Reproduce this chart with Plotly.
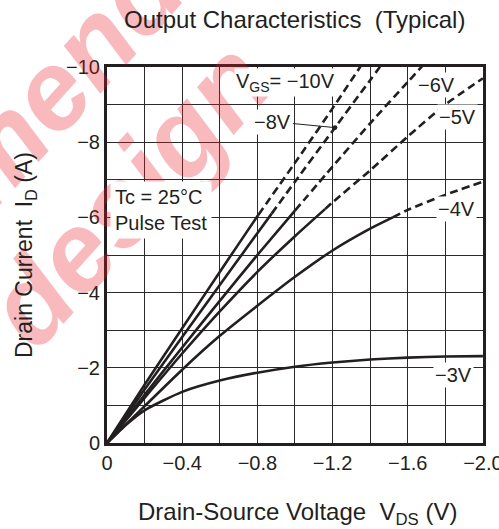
import numpy as np
import plotly.graph_objects as go

# ---- data ----
vgs_labels = ["−10V", "−8V", "−6V", "−5V", "−4V", "−3V"]

vds_m10 = [0, -0.2, -0.4, -0.6, -0.8, -1.0, -1.2, -1.4]
id_m10 = [0, -1.55, -3.05, -4.55, -6.03, -7.45, -8.9, -10.4]

vds_m8 = [0, -0.2, -0.4, -0.6, -0.8, -1.0, -1.2, -1.4, -1.6]
id_m8 = [0, -1.42, -2.82, -4.2, -5.58, -6.95, -8.3, -9.65, -11.0]

vds_m6 = [0, -0.2, -0.4, -0.6, -0.8, -1.0, -1.2, -1.4, -1.6, -1.8]
id_m6 = [0, -1.28, -2.54, -3.78, -5.0, -6.18, -7.35, -8.5, -9.6, -10.7]

vds_m5 = [0, -0.2, -0.4, -0.6, -0.8, -1.0, -1.2, -1.4, -1.6, -1.8, -2.0]
id_m5 = [0, -1.2, -2.38, -3.5, -4.55, -5.5, -6.4, -7.25, -8.15, -9.0, -9.7]

vds_m4 = [0, -0.2, -0.4, -0.6, -0.8, -1.0, -1.2, -1.4, -1.6, -1.8, -2.0]
id_m4 = [0, -0.98, -1.95, -2.85, -3.65, -4.42, -5.12, -5.7, -6.2, -6.6, -6.95]

vds_m3 = [0, -0.1, -0.2, -0.4, -0.6, -0.8, -1.0, -1.2, -1.4, -1.6, -1.8, -2.0]
id_m3 = [0, -0.48, -0.87, -1.36, -1.66, -1.87, -2.03, -2.14, -2.22, -2.27, -2.30, -2.31]

# V_DS where each solid (measured) curve turns dashed
solid_end_vds = [-0.805, -0.876, -1.0, -1.16, -1.52, -2.0]

x_tick_vals = [0, -0.4, -0.8, -1.2, -1.6, -2.0]
x_tick_text = ["0", "−0.4", "−0.8", "−1.2", "−1.6", "−2.0"]
y_tick_vals = [0, -2, -4, -6, -8, -10]
y_tick_text = ["0", "−2", "−4", "−6", "−8", "−10"]
x_grid_vals = [round(-0.2 * k, 1) for k in range(11)]
y_grid_vals = [-k for k in range(11)]

curves = [(vds_m10, id_m10), (vds_m8, id_m8), (vds_m6, id_m6),
          (vds_m5, id_m5), (vds_m4, id_m4), (vds_m3, id_m3)]

INK = "#231f20"
fig = go.Figure()

for (vx, iy), vend in zip(curves, solid_end_vds):
    vx = np.array(vx, float)
    iy = np.array(iy, float)
    mx, my = -vx, -iy
    ie = float(np.interp(-vend, mx, my))
    sel_s = mx < -vend - 1e-9
    sx = list(vx[sel_s]) + [vend]
    sy = list(iy[sel_s]) + [-ie]
    fig.add_trace(go.Scatter(x=sx, y=sy, mode="lines",
                             line=dict(color=INK, width=2.6, shape="spline", smoothing=0.6),
                             hoverinfo="skip", showlegend=False))
    sel_d = mx > -vend + 1e-9
    if sel_d.any():
        dx = [vend] + list(vx[sel_d])
        dy = [-ie] + list(iy[sel_d])
        fig.add_trace(go.Scatter(x=dx, y=dy, mode="lines",
                                 line=dict(color=INK, width=2.6, dash="8px,4.5px",
                                           shape="spline", smoothing=0.6),
                                 hoverinfo="skip", showlegend=False))

FONT = "Liberation Sans, Arial, sans-serif"
L, R, T, B = 107, 483, 67, 443
W, H = 499, 529


def px(xp):
    return (xp - L) / (R - L)


def py(yp):
    return (B - yp) / (B - T)


def txt(text, xp, yp, font, **kw):
    d = dict(text=text, xref="paper", yref="paper", x=px(xp), y=py(yp),
             xanchor="center", yanchor="middle", showarrow=False, font=font)
    d.update(kw)
    return d


ann = []
# watermark
wm = dict(color="rgba(236,28,40,0.30)", family="Liberation Sans, Arial", size=112,
          weight="bold", style="italic")
ann.append(txt("mend", 62, 78, wm, textangle=-48))
ann.append(txt("design", 128, 194, wm, textangle=-48))

lab_font = dict(family=FONT, size=20, color=INK)
ann.append(txt("V<sub>GS</sub>= −10V", 285, 83, lab_font, bgcolor="white", borderpad=1))
# -8V label with arrow to the -8V curve
tip_v = -1.213
tip_i = -float(np.interp(-tip_v, -np.array(vds_m8), -np.array(id_m8)))
ann.append(dict(text="−8V", x=tip_v, y=tip_i, xref="x", yref="y",
                ax=-62, ay=-6, showarrow=True, arrowhead=6, arrowsize=1.2,
                arrowwidth=1, arrowcolor=INK, font=lab_font, bgcolor="white",
                borderpad=1, standoff=0, xanchor="center", yanchor="middle"))
for text, xp, yp in [("−6V", 436, 85), ("−5V", 457, 117), ("−4V", 456, 209), ("−3V", 453, 375)]:
    ann.append(txt(text, xp, yp, lab_font, bgcolor="white", borderpad=1))
ann.append(txt("Tc = 25°C<br>Pulse Test", 110, 181, lab_font, xanchor="left",
               yanchor="top", align="left", bgcolor="white", borderpad=4))
# axis titles
ann.append(txt("Drain-Source Voltage  V<sub>DS</sub> (V)", 297, 513,
               dict(family=FONT, size=24, color=INK)))
ann.append(txt("Drain Current  I<sub>D</sub> (A)", 25, 255,
               dict(family=FONT, size=23, color=INK), textangle=-90))
# title
ann.append(txt("Output Characteristics  (Typical)", 294, 19,
               dict(family=FONT, size=24, color=INK)))

axis_common = dict(showline=True, linewidth=3, linecolor=INK, mirror=True,
                   zeroline=False, ticks="", showgrid=True, gridcolor="#2a2a2a",
                   gridwidth=1.1, ticklabeloverflow="allow", automargin=False,
                   tickfont=dict(family=FONT, size=20, color=INK))

fig.update_layout(
    width=W, height=H,
    margin=dict(l=L, r=W - R, t=T, b=H - B, autoexpand=False),
    paper_bgcolor="white", plot_bgcolor="white",
    xaxis=dict(range=[0, -2.0005], tickvals=x_tick_vals, ticktext=x_tick_text,
               minor=dict(tickvals=x_grid_vals, showgrid=True, gridcolor="#2a2a2a", gridwidth=1.1),
               **axis_common),
    yaxis=dict(range=[0, -10.0], tickvals=y_tick_vals, ticktext=y_tick_text,
               minor=dict(tickvals=y_grid_vals, showgrid=True, gridcolor="#2a2a2a", gridwidth=1.1),
               **axis_common),
    annotations=ann,
    showlegend=False,
)

fig.write_html("out.html", config={"displayModeBar": False},
               post_script="document.body.style.margin='0';")
